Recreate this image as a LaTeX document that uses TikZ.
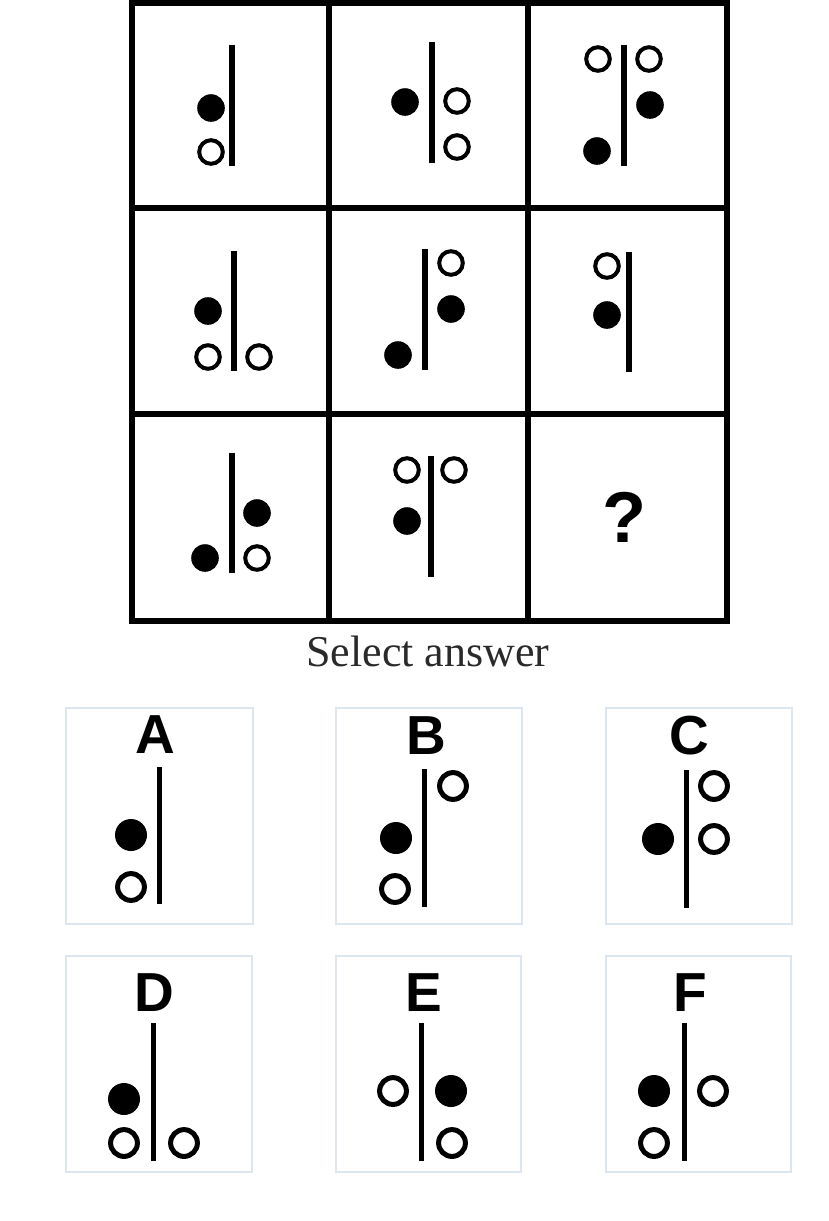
\documentclass[tikz,border=0pt]{standalone}
\usepackage{fontspec}
\setmainfont{Liberation Serif}
\newfontfamily\arialbf{Liberation Sans}[BoldFont={* Bold}]
\definecolor{boxline}{HTML}{DCE6F0}
\definecolor{capgray}{HTML}{2A2A2A}
\newcommand\gridF[2]{\fill (#1,#2) circle (13.8pt);}
\newcommand\gridO[2]{\draw[line width=4pt] (#1,#2) circle (11.8pt);}
\newcommand\gridL[3]{\draw[line width=5.2pt] (#1,#2) -- (#1,#3);}
\newcommand\ansF[2]{\fill (#1,#2) circle (16pt);}
\newcommand\ansO[2]{\draw[line width=5pt] (#1,#2) circle (13.4pt);}
\newcommand\ansL[3]{\draw[line width=5pt] (#1,#2) -- (#1,#3);}
\tikzset{
  gridline/.style={line width=6pt, line cap=rect},
  ansbox/.style={draw=boxline, line width=1.2pt},
  anslabel/.style={font=\arialbf\bfseries\fontsize{55}{55}\selectfont, anchor=base, inner sep=0pt},
}
\begin{document}
\begin{tikzpicture}[x=1pt,y=-1pt]
\useasboundingbox (0,0) rectangle (828,1221);
% grid
\draw[gridline] (132,3) rectangle (727,621);
\draw[gridline] (329,3) -- (329,621);
\draw[gridline] (528,3) -- (528,621);
\draw[gridline] (132,208) -- (727,208);
\draw[gridline] (132,414) -- (727,414);
% row 1
\gridL{232}{45}{166} \gridF{211}{108} \gridO{211}{152}
\gridL{432}{42}{163} \gridF{405}{102} \gridO{457}{101} \gridO{457}{147}
\gridL{624}{45}{166} \gridO{598}{59} \gridO{649}{59} \gridF{650}{105} \gridF{597}{151}
% row 2
\gridL{234}{251}{371} \gridF{208}{311} \gridO{208}{357} \gridO{259}{357}
\gridL{425}{249}{370} \gridO{451}{263} \gridF{451}{309} \gridF{398}{355}
\gridL{629}{252}{372} \gridO{607}{266} \gridF{607}{315}
% row 3
\gridL{232}{453}{573} \gridF{257}{513} \gridO{257}{558} \gridF{205}{558}
\gridL{431}{456}{577} \gridO{407}{470} \gridO{454}{470} \gridF{407}{521}
\node[font=\arialbf\bfseries\fontsize{72}{72}\selectfont, inner sep=0pt] (q) at (624,517) {?};
% caption
\node[font=\fontsize{44}{44}\selectfont, text=capgray, anchor=base, inner sep=0pt] (cap) at (428,666) {Select answer};
% answer boxes
\draw[ansbox] (66,708) rectangle (253,924);
\draw[ansbox] (336,708) rectangle (522,924);
\draw[ansbox] (606,708) rectangle (792,924);
\draw[ansbox] (66,956) rectangle (252,1172);
\draw[ansbox] (336,956) rectangle (521,1172);
\draw[ansbox] (606,956) rectangle (791,1172);
\node[anslabel] (la) at (155,753) {A};
\node[anslabel] (lb) at (426,754) {B};
\node[anslabel] (lc) at (689,754) {C};
\node[anslabel] (ld) at (154,1011) {D};
\node[anslabel] (le) at (424,1011) {E};
\node[anslabel] (lf) at (690,1011) {F};
% A
\ansL{159}{767}{904} \ansF{131}{835} \ansO{131}{887}
% B
\ansL{424}{769}{907} \ansO{453}{786} \ansF{396}{838} \ansO{395}{889}
% C
\ansL{686}{770}{908} \ansO{714}{786} \ansO{714}{839} \ansF{658}{839}
% D
\ansL{153}{1023}{1161} \ansF{124}{1099} \ansO{124}{1143} \ansO{184}{1143}
% E
\ansL{421}{1023}{1161} \ansO{393}{1091} \ansF{451}{1091} \ansO{452}{1143}
% F
\ansL{684}{1023}{1161} \ansF{654}{1091} \ansO{713}{1091} \ansO{654}{1143}
\end{tikzpicture}
\end{document}
